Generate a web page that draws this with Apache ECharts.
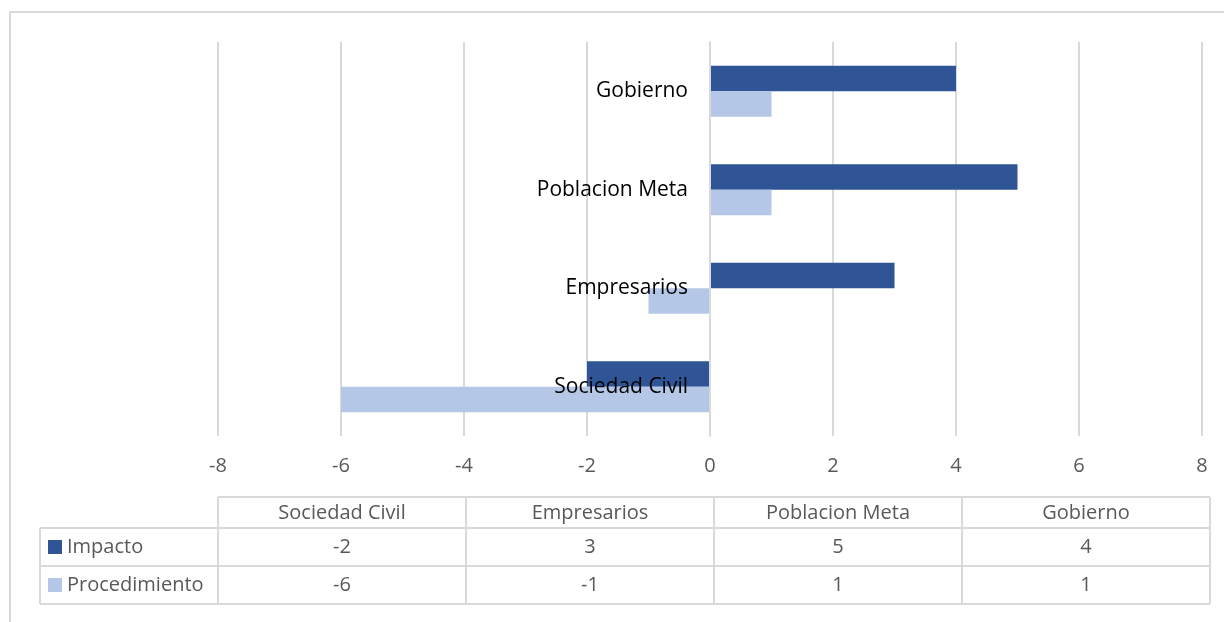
<!DOCTYPE html>
<html>
<head>
<meta charset="utf-8">
<script src="https://cdn.jsdelivr.net/npm/echarts@6/dist/echarts.min.js"></script>
<style>
    html, body { margin: 0; padding: 0; background: #fff; }
    #main { width: 1224px; height: 622px; }
</style>
</head>
<body>
<div id="main"></div>
<script>
// 数据
let categories = ['Sociedad Civil', 'Empresarios', 'Poblacion Meta', 'Gobierno'];
let impacto = [-2, 3, 5, 4];
let procedimiento = [-6, -1, 1, 1];
let seriesNames = ['Impacto', 'Procedimiento'];
let colors = ['#2F5597', '#B4C7E7'];
let xTicks = [-8, -6, -4, -2, 0, 2, 4, 6, 8];

let fontFam = '"Open Sans", sans-serif';

// 数据表 (legend + values)
function buildTable() {
    let els = [];
    let left = 40, colStart = 218, colW = 248, right = 1210;
    let rows = [497, 528, 566, 604];
    let line = '#d9d9d9';
    // 边框
    els.push({type: 'line', shape: {x1: colStart, y1: rows[0], x2: right, y2: rows[0]}, style: {stroke: line, lineWidth: 2}});
    for (let r = 1; r < rows.length; r++) {
        els.push({type: 'line', shape: {x1: left, y1: rows[r], x2: right, y2: rows[r]}, style: {stroke: line, lineWidth: 2}});
    }
    els.push({type: 'line', shape: {x1: left, y1: rows[1], x2: left, y2: rows[3]}, style: {stroke: line, lineWidth: 2}});
    for (let c = 0; c <= categories.length; c++) {
        let x = colStart + c * colW;
        if (c === categories.length) x = right;
        els.push({type: 'line', shape: {x1: x, y1: rows[0], x2: x, y2: rows[3]}, style: {stroke: line, lineWidth: 2}});
    }
    // 表头
    categories.forEach(function (name, i) {
        els.push({type: 'text', x: colStart + i * colW + colW / 2, y: (rows[0] + rows[1]) / 2 + 1,
            style: {text: name, fill: '#595959', font: '20px ' + fontFam, align: 'center', verticalAlign: 'middle'}});
    });
    let data = [impacto, procedimiento];
    data.forEach(function (vals, r) {
        let cy = (rows[r + 1] + rows[r + 2]) / 2;
        els.push({type: 'rect', shape: {x: 48, y: cy - 7, width: 14, height: 14}, style: {fill: colors[r]}});
        els.push({type: 'text', x: 67, y: cy, style: {text: seriesNames[r], fill: '#595959', font: '20px ' + fontFam, align: 'left', verticalAlign: 'middle'}});
        vals.forEach(function (v, i) {
            els.push({type: 'text', x: colStart + i * colW + colW / 2, y: cy,
                style: {text: String(v), fill: '#595959', font: '20px ' + fontFam, align: 'center', verticalAlign: 'middle'}});
        });
    });
    // 外框
    els.push({type: 'rect', shape: {x: 10, y: 12, width: 1230, height: 630}, style: {fill: 'none', stroke: line, lineWidth: 2}, z: -1});
    return els;
}

let myChart = echarts.init(document.getElementById('main'), null, {renderer: 'canvas'});
let option = {
    animation: false,
    backgroundColor: '#fff',
    grid: {left: 218, right: 22, top: 42, bottom: 186, containLabel: false},
    xAxis: {
        type: 'value',
        min: xTicks[0],
        max: xTicks[xTicks.length - 1],
        interval: 2,
        axisLine: {show: false},
        axisTick: {show: false},
        splitLine: {lineStyle: {color: '#d9d9d9', width: 2}},
        axisLabel: {color: '#595959', fontSize: 20, fontFamily: fontFam, margin: 20}
    },
    yAxis: {
        type: 'category',
        data: categories,
        z: 10,
        offset: -492,
        axisLine: {show: true, onZero: false, lineStyle: {color: '#d9d9d9', width: 2}},
        axisTick: {show: false},
        axisLabel: {color: '#000', fontSize: 21, fontFamily: fontFam, margin: 22, padding: [4, 0, 0, 0]}
    },
    series: [{
        name: seriesNames[0],
        type: 'bar',
        data: impacto,
        barWidth: 25.5,
        barGap: '0%',
        itemStyle: {color: colors[0]}
    }, {
        name: seriesNames[1],
        type: 'bar',
        data: procedimiento,
        barWidth: 25.5,
        barGap: '0%',
        itemStyle: {color: colors[1]}
    }],
    graphic: buildTable()
};
myChart.setOption(option);
</script>
</body>
</html>
